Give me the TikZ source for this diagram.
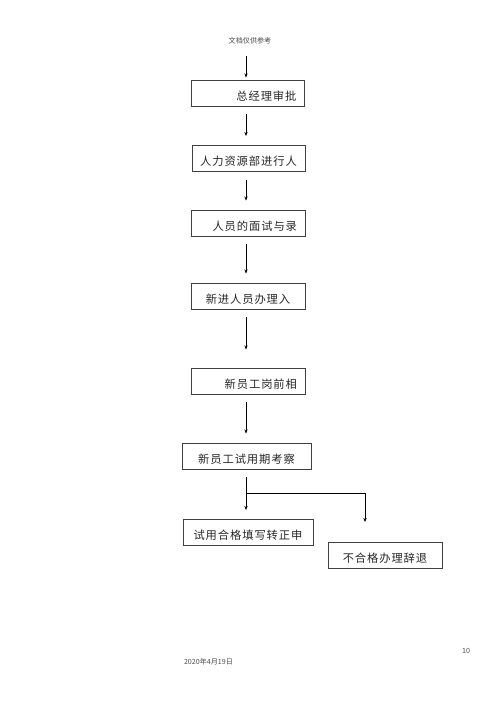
\documentclass[tikz,border=0pt]{standalone}
\usepackage{fontspec}
\setmainfont{Noto Sans CJK SC}
\newfontfamily\boxfont[LetterSpace=8]{Noto Sans CJK SC}
\usetikzlibrary{arrows.meta}

\begin{document}
\begin{tikzpicture}[x=0.042cm, y=-0.042cm,
    stepbox/.style={draw=black!75, line width=0.8pt, minimum height=11mm,
      inner xsep=3.36mm, inner ysep=1pt, text height=17pt, text depth=0pt,
      font=\boxfont\fontsize{13.5}{16}\selectfont, text=black!85},
    arr/.style={-{Stealth[length=5pt,width=4pt]}, line width=0.8pt,
      shorten <=3.36mm, shorten >=3.78mm},
    small/.style={font=\fontsize{8.5}{10}\selectfont, text=black!70}]
  \useasboundingbox (0,0) rectangle (500,707);
  \node[small] (hdr) at (250,41) {文档仅供参考};
  \node[stepbox, text width=40.74mm, align=right] (zjl) at (248,93) {总经理审批};
  \node[stepbox, text width=40.74mm, align=center] (rlzy) at (248.5,158.5) {人力资源部进行人};
  \node[stepbox, text width=41.16mm, align=right] (ms) at (248,223) {人员的面试与录};
  \node[stepbox, text width=41.16mm, align=center] (rz) at (248,296) {新进人员办理入};
  \node[stepbox, text width=41.16mm, align=right] (px) at (248,381) {新员工岗前相};
  \node[stepbox, text width=47.46mm, align=center] (syq) at (246.5,456) {新员工试用期考察};
  \node[stepbox, text width=47.88mm, align=center] (zz) at (248,532.5) {试用合格填写转正申};
  \node[stepbox, text width=41.16mm, align=center] (ct) at (385,555.5) {不合格办理辞退};
  \coordinate (col) at (246,0);
  \coordinate (rcol) at (365,0);
  \coordinate (top) at (246,56);
  \coordinate (fork) at (246,493);
  \draw[arr, shorten <=0pt, shorten >=0.84mm] (top) -- (top |- zjl.north);
  \draw[arr] (zjl.south -| col) -- (rlzy.north -| col);
  \draw[arr] (rlzy.south -| col) -- (ms.north -| col);
  \draw[arr] (ms.south -| col) -- (rz.north -| col);
  \draw[arr, shorten >=7.56mm] (rz.south -| col) -- (px.north -| col);
  \draw[arr] (px.south -| col) -- (syq.north -| col);
  \draw[arr] (syq.south -| col) -- (zz.north -| col);
  \draw[arr, shorten <=0pt, shorten >=8.4mm] (fork) -| (ct.north -| rcol);
  \node[small] (date) at (208.5,662) {2020年4月19日};
  \node[small] (pg) at (466,651) {10};
\end{tikzpicture}
\end{document}
